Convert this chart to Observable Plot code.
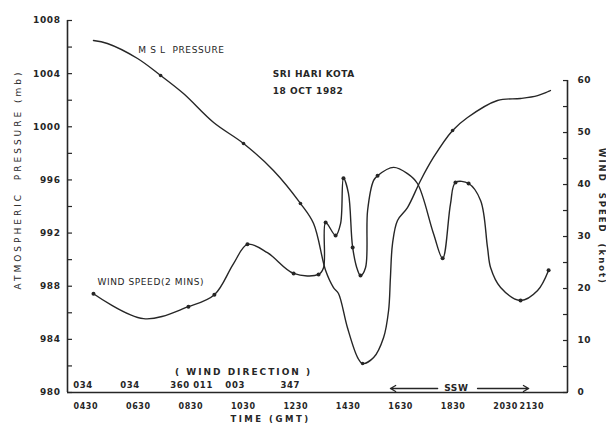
<!DOCTYPE html>
<html><head><meta charset="utf-8">
<script src="https://cdn.jsdelivr.net/npm/d3@7"></script>
<script src="https://cdn.jsdelivr.net/npm/@observablehq/plot@0.6"></script>
<style>
html,body{margin:0;padding:0;background:#fff;}
#chart svg{display:block;}
#chart text{letter-spacing:0.6px;}
</style></head><body><div id="chart"></div>
<script>
// MSL pressure (mb) vs time (decimal hours GMT)
const pressureTime  = [4.79, 5.32, 6.47, 7.35, 8.22, 9.37, 10.51, 11.65, 12.68, 13.18, 13.64, 13.94, 14.13, 14.47, 14.86, 15.05, 15.47, 15.85, 16.04, 16.11, 16.19, 16.38, 16.76, 17.26, 17.75, 18.48, 19.05, 20.19, 21.07, 21.72, 22.21];
const pressureValue = [1006.49, 1006.27, 1005.14, 1003.86, 1002.50, 1000.32, 998.74, 996.71, 994.23, 992.72, 989.18, 987.90, 987.45, 984.89, 982.63, 982.18, 982.63, 984.14, 986.17, 988.66, 991.21, 992.95, 993.92, 995.96, 997.69, 999.72, 1000.70, 1001.98, 1002.13, 1002.35, 1002.73];
const pressureDot   = [0,0,0,1,0,0,1,0,1,0,0,0,0,0,0,1,0,0,0,0,0,0,0,0,0,1,0,0,0,0,0];

// Wind speed (knots, 2-min mean) vs time
const windTime  = [4.79, 6.70, 8.41, 9.40, 10.13, 10.66, 11.42, 12.42, 13.37, 13.56, 13.64, 14.02, 14.21, 14.32, 14.51, 14.67, 14.86, 14.97, 15.16, 15.24, 15.47, 15.62, 16.23, 16.76, 17.14, 17.75, 18.10, 18.40, 18.59, 19.09, 19.55, 19.81, 19.93, 20.31, 21.07, 21.72, 22.14];
const windSpeed = [19.0, 14.2, 16.5, 18.8, 24.8, 28.5, 26.9, 22.9, 22.7, 24.0, 32.7, 30.2, 32.5, 41.2, 38.3, 27.9, 23.5, 22.5, 24.0, 35.0, 40.8, 41.7, 43.3, 42.1, 40.2, 30.6, 25.8, 36.3, 40.4, 40.2, 36.9, 27.9, 24.0, 20.2, 17.7, 19.6, 23.5];
const windDot   = [1,0,1,1,0,1,0,1,1,0,1,1,0,1,0,1,0,1,0,0,0,1,0,0,0,0,1,0,1,1,0,0,0,0,1,0,1];

// Axis ticks
const timeTicks  = [4.5, 6.5, 8.5, 10.5, 12.5, 14.5, 16.5, 18.5, 20.5, 21.5];
const timeLabels = ["0430", "0630", "0830", "1030", "1230", "1430", "1630", "1830", "2030", "2130"];
const pressureTicks = [980, 984, 988, 992, 996, 1000, 1004, 1008];
const pressureMinor = [980, 982, 984, 986, 988, 990, 992, 994, 996, 998, 1000, 1002, 1004, 1006, 1008];
const windTicks = [0, 10, 20, 30, 40, 50, 60];
const windMinor = [0, 5, 10, 15, 20, 25, 30, 35, 40, 45, 50, 55, 60];

// Wind direction annotations
const dirTime   = [4.39, 6.18, 8.09, 8.97, 10.19, 12.29];
const dirLabels = ["034", "034", "360", "011", "003", "347"];

const X_DOMAIN = [3.8, 22.86];
const Y_DOMAIN = [980, 1008];
const WIND_TOP_P = 1003.48;           // pressure level matching 60 knots
const k = (WIND_TOP_P - 980) / 60;
const toP = w => 980 + w * k;
const toW = p => Math.round((p - 980) / k);

const pressure = pressureTime.map((t, i) => ({t, p: pressureValue[i], dot: pressureDot[i]}));
const wind = windTime.map((t, i) => ({t, w: windSpeed[i], dot: windDot[i]}));
const dirs = dirTime.map((t, i) => ({t, label: dirLabels[i]}));

const ink = "#262626";
const F = "DejaVu Sans";

const chart = Plot.plot({
  width: 606, height: 431,
  marginLeft: 67, marginRight: 39, marginTop: 20, marginBottom: 39,
  style: {fontFamily: F, fontSize: "9px", color: ink, background: "#fff"},
  x: {domain: X_DOMAIN},
  y: {domain: Y_DOMAIN},
  marks: [
    // axis lines
    Plot.ruleX([X_DOMAIN[0]], {y1: 980, y2: 1008, stroke: ink, strokeWidth: 1.6}),
    Plot.ruleX([X_DOMAIN[1]], {y1: 980, y2: toP(60), stroke: ink, strokeWidth: 1.6}),
    Plot.ruleY([980], {x1: X_DOMAIN[0], x2: X_DOMAIN[1], stroke: ink, strokeWidth: 1.6}),
    // left axis
    Plot.axisY({anchor: "left", ticks: pressureMinor, tickSize: 5, dx: 5, tickFormat: () => "", label: null, stroke: ink, strokeWidth: 1.2}),
    Plot.axisY({anchor: "left", ticks: pressureTicks, tickSize: 0, tickPadding: 7, tickFormat: d => String(d), label: null, fontSize: 9, fontWeight: "bold", fill: ink}),
    // right axis (wind)
    Plot.axisY({anchor: "right", ticks: windMinor.map(toP), tickSize: 5, dx: -5, tickFormat: () => "", label: null, stroke: ink, strokeWidth: 1.2}),
    Plot.axisY({anchor: "right", ticks: windTicks.map(toP), tickSize: 0, tickPadding: 10, tickFormat: d => String(toW(d)), label: null, fontSize: 9, fontWeight: "bold", fill: ink}),
    // bottom axis
    Plot.axisX({ticks: timeTicks, tickSize: 0, tickPadding: 11, tickFormat: d => timeLabels[timeTicks.indexOf(d)], label: null, fontSize: 8, fontWeight: "bold", fill: ink}),
    // curves
    Plot.line(pressure, {x: "t", y: "p", curve: "catmull-rom", stroke: ink, strokeWidth: 1.4}),
    Plot.dot(pressure.filter(d => d.dot), {x: "t", y: "p", r: 1.8, fill: ink}),
    Plot.line(wind, {x: "t", y: d => toP(d.w), curve: "catmull-rom", stroke: ink, strokeWidth: 1.4}),
    Plot.dot(wind.filter(d => d.dot), {x: "t", y: d => toP(d.w), r: 2, fill: ink}),
    // annotations
    Plot.text(["M S L  PRESSURE"], {x: 6.5, y: 1005.8, text: d => d, textAnchor: "start", fontSize: 9, fill: ink}),
    Plot.text(["SRI HARI KOTA"], {x: 11.62, y: 1003.93, text: d => d, textAnchor: "start", fontSize: 9, fontWeight: "bold", fill: ink}),
    Plot.text(["18 OCT 1982"], {x: 11.62, y: 1002.66, text: d => d, textAnchor: "start", fontSize: 9, fontWeight: "bold", fill: ink}),
    Plot.text(["WIND SPEED(2 MINS)"], {x: 4.94, y: 988.28, text: d => d, textAnchor: "start", fontSize: 9, fill: ink}),
    Plot.text(["( WIND DIRECTION )"], {x: 10.51, y: 981.5, text: d => d, fontSize: 9, fontWeight: "bold", fill: ink}),
    Plot.text(dirs, {x: "t", y: 980.53, text: "label", fontSize: 8.5, fontWeight: "bold", fill: ink}),
    Plot.arrow([{a: 17.91, b: 16.11}, {a: 19.43, b: 21.38}], {x1: "a", x2: "b", y1: 980.3, y2: 980.3, stroke: ink, strokeWidth: 1.3, headLength: 7}),
    Plot.text(["SSW"], {x: 18.62, y: 980.3, text: d => d, fontSize: 9, fontWeight: "bold", fill: ink}),
    // axis titles
    Plot.text(["ATMOSPHERIC  PRESSURE (mb)"], {frameAnchor: "left", textAnchor: "middle", dx: -49, dy: -27, rotate: -90, text: d => d, fontSize: 9, fill: ink}),
    Plot.text(["WIND  SPEED  (knot)"], {frameAnchor: "right", textAnchor: "middle", dx: 34, dy: 10, rotate: 90, text: d => d, fontSize: 8.5, fontWeight: "bold", fill: ink}),
    Plot.text(["TIME (GMT)"], {frameAnchor: "bottom", dx: -47, dy: 29, text: d => d, fontSize: 8.5, fontWeight: "bold", fill: ink})
  ]
});
document.getElementById("chart").appendChild(chart);
d3.select(chart).selectAll("text").each(function() {
  const t = this.textContent;
  if (t.startsWith("ATMOSPHERIC")) this.style.letterSpacing = "3px";
  if (t.startsWith("WIND  SPEED")) this.style.letterSpacing = "2px";
  if (t.startsWith("TIME")) this.style.letterSpacing = "2.5px";
  if (t.startsWith("( WIND")) this.style.letterSpacing = "2px";
});
</script></body></html>
